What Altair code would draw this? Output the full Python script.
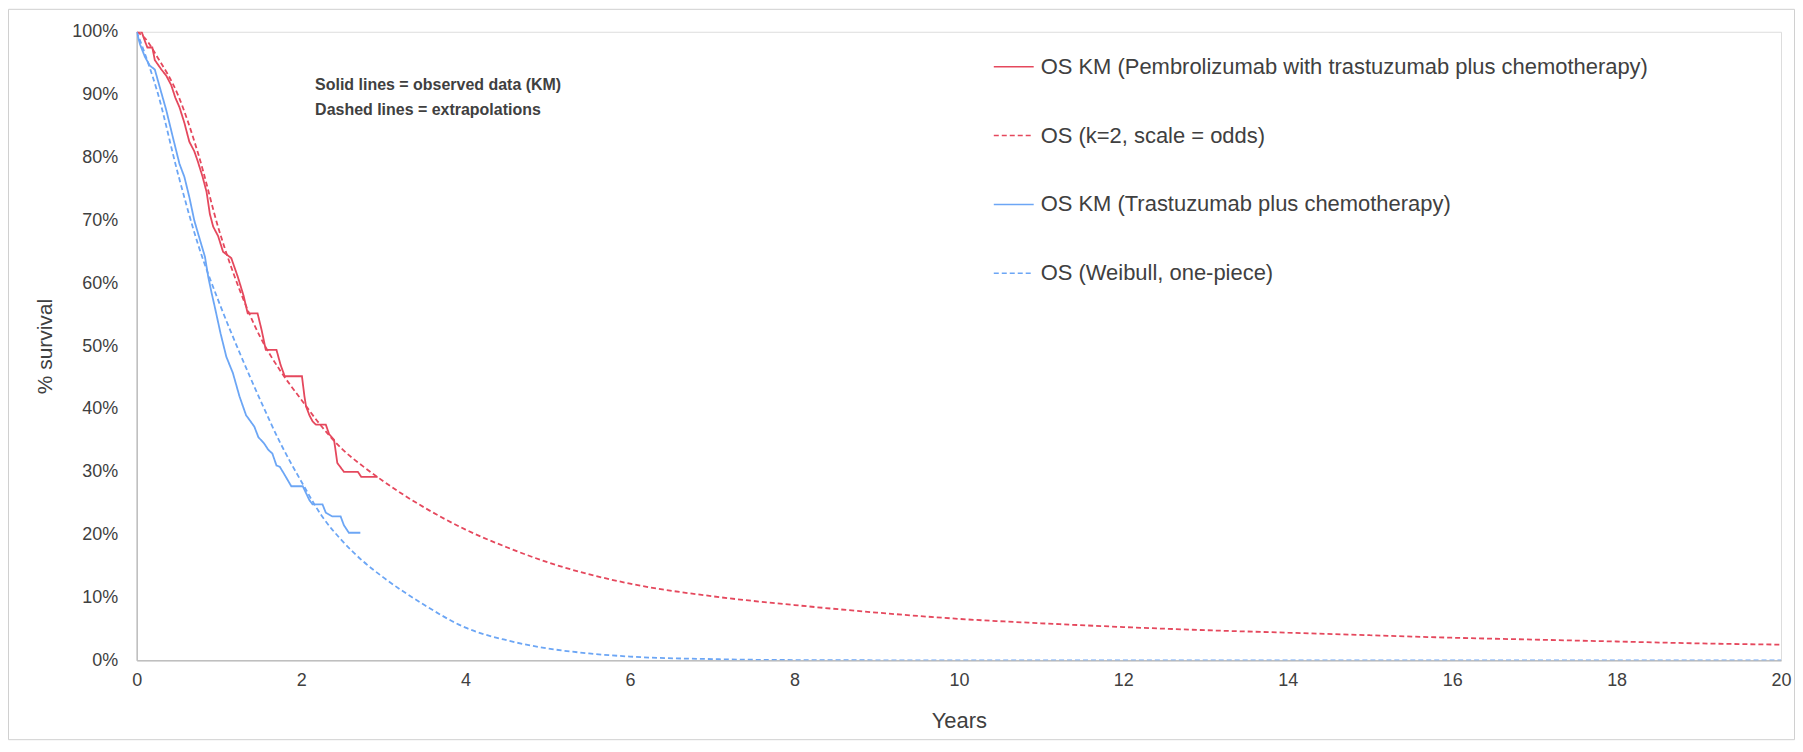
import altair as alt
import pandas as pd

# ---- Data (years, % survival) ----
pem_km_t = [0, 0.06, 0.10, 0.13, 0.19, 0.22, 0.30, 0.36, 0.42, 0.47, 0.52, 0.58, 0.64, 0.70, 0.74,
            0.80, 0.85, 0.89, 0.93, 0.99, 1.05, 1.15, 1.19, 1.23, 1.30, 1.35, 1.47, 1.52, 1.57, 1.70,
            1.75, 1.80, 2.01, 2.04, 2.06, 2.10, 2.14, 2.18, 2.30, 2.34, 2.40, 2.44, 2.52, 2.69, 2.73, 2.93]
pem_km_s = [100, 100, 98.5, 97.5, 97.5, 95.5, 94, 93, 91.5, 89.5, 88, 85.5, 82.5, 81, 79.5,
            77, 74.5, 71, 69, 67.5, 65, 64, 62.5, 61, 58, 55.2, 55.2, 52.5, 49.4, 49.4,
            47, 45.2, 45.2, 42, 40.4, 39, 38, 37.5, 37.5, 36, 35.1, 31.4, 30.0, 30.0, 29.2, 29.2]

tra_km_t = [0, 0.04, 0.07, 0.10, 0.16, 0.22, 0.28, 0.36, 0.44, 0.52, 0.58, 0.64, 0.70, 0.76, 0.83,
            0.87, 0.91, 0.95, 1.02, 1.09, 1.17, 1.25, 1.33, 1.43, 1.48, 1.55, 1.60, 1.65, 1.70, 1.74,
            1.80, 1.88, 2.02, 2.10, 2.14, 2.26, 2.30, 2.38, 2.48, 2.52, 2.58, 2.72]
tra_km_s = [100, 98, 97, 96, 94.6, 94, 91.2, 87.5, 83.2, 79, 76.9, 73.7, 70, 67.3, 64.2,
            61, 58.5, 56.2, 52, 48.3, 45.7, 42, 39, 37.2, 35.5, 34.5, 33.5, 32.9, 31, 30.8,
            29.5, 27.7, 27.7, 25.5, 24.8, 24.8, 23.5, 22.9, 22.9, 21.5, 20.3, 20.3]

pem_fit_t = [0, 0.1, 0.25, 0.5, 0.75, 1.0, 1.25, 1.5, 1.75, 2.0, 2.25, 2.5, 2.75, 3.0, 3.25, 3.5,
             4, 4.5, 5, 6, 7, 8, 9, 10, 11, 12, 13, 14, 15, 16, 17, 18, 19, 20]
pem_fit_s = [100, 99, 96, 90, 80.5, 68.5, 59, 51.5, 46, 41.5, 37.2, 33.6, 30.9, 28.5, 26.3, 24.3,
             20.8, 18, 15.6, 12.2, 10.2, 8.8, 7.6, 6.6, 5.9, 5.3, 4.8, 4.4, 4.0, 3.6, 3.3, 3.0, 2.7, 2.5]

tra_fit_t = [0, 0.1, 0.25, 0.5, 0.75, 1.0, 1.25, 1.5, 1.75, 2.0, 2.25, 2.5, 2.75, 3.0, 3.5, 4.0,
             4.5, 5.0, 5.5, 6.0, 7.0, 8.0, 10, 20]
tra_fit_s = [100, 96.5, 90.5, 77.5, 66, 57, 49, 41.5, 34.5, 28.5, 23, 19, 15.8, 13.2, 8.8, 5.2,
             3.2, 1.9, 1.1, 0.6, 0.2, 0.05, 0, 0]

series_names = ["OS KM (Pembrolizumab with trastuzumab plus chemotherapy)",
                "OS (k=2, scale = odds)",
                "OS KM (Trastuzumab plus chemotherapy)",
                "OS (Weibull, one-piece)"]
series_colors = ["#E5485D", "#E5485D", "#6CA6F5", "#6CA6F5"]
series_dash = [[1, 0], [5, 3], [1, 0], [5, 3]]

note_lines = ["Solid lines = observed data (KM)", "Dashed lines = extrapolations"]
note_t = [2.17, 2.17]
note_s = [91.6, 87.6]

x_ticks = list(range(0, 21, 2))
y_ticks = list(range(0, 101, 10))

FONT = "Liberation Sans"
TXT = "#404040"


def frame(ts, ss, name, kind):
    return pd.DataFrame({"t": ts, "s": ss, "series": name, "kind": kind, "idx": range(len(ts))})


df = pd.concat([
    frame(pem_km_t, pem_km_s, series_names[0], "km"),
    frame(pem_fit_t, pem_fit_s, series_names[1], "fit"),
    frame(tra_km_t, tra_km_s, series_names[2], "km"),
    frame(tra_fit_t, tra_fit_s, series_names[3], "fit"),
], ignore_index=True)

W, H = 1648, 630

legend = alt.Legend(
    title=None, orient="none", legendX=858, legendY=14, symbolType="stroke",
    symbolSize=1600, symbolStrokeWidth=1.5, labelFontSize=22, labelFont=FONT,
    labelColor=TXT, rowPadding=37, labelOffset=6, padding=0, labelLimit=900,
)

x_enc = alt.X("t:Q", scale=alt.Scale(domain=[0, 20], nice=False),
              axis=alt.Axis(values=x_ticks, format="d", title="Years", grid=False, ticks=False, tickSize=0,
                            labelPadding=11, labelFontSize=18, labelFont=FONT, labelColor=TXT,
                            titleFontSize=22, titleFont=FONT, titleColor=TXT, titleFontWeight="normal",
                            titleY=60, titleBaseline="middle",
                            domainColor="#BFBFBF", domainWidth=1.5, labelFlush=False))
y_enc = alt.Y("s:Q", scale=alt.Scale(domain=[0, 100], nice=False),
              axis=alt.Axis(values=y_ticks, title="% survival", grid=False, ticks=False, tickSize=0,
                            labelExpr="datum.value + '%'", labelPadding=19, labelFontSize=18,
                            labelFont=FONT, labelColor=TXT, titleFontSize=21, titleFont=FONT,
                            titleColor=TXT, titleFontWeight="normal", titleX=-91, titleY=315,
                            titleAngle=-90, titleAlign="center", titleBaseline="middle",
                            domainColor="#BFBFBF", domainWidth=1.5, labelFlush=False))
color_enc = alt.Color("series:N", scale=alt.Scale(domain=series_names, range=series_colors), legend=legend)
dash_enc = alt.StrokeDash("series:N", scale=alt.Scale(domain=series_names, range=series_dash), legend=legend)

base = alt.Chart(df)

km = base.transform_filter(alt.datum.kind == "km").mark_line(strokeWidth=1.8, clip=True).encode(
    x=x_enc, y=y_enc, color=color_enc, strokeDash=dash_enc, order="idx:Q", detail="series:N")
fit = base.transform_filter(alt.datum.kind == "fit").mark_line(strokeWidth=1.8, interpolate="monotone", clip=True).encode(
    x=x_enc, y=y_enc, color=color_enc, strokeDash=dash_enc, order="idx:Q", detail="series:N")

notes = alt.Chart(pd.DataFrame({"t": note_t, "s": note_s, "txt": note_lines})).mark_text(
    align="left", baseline="middle", fontSize=16, font=FONT, fontWeight="bold", color=TXT
).encode(x="t:Q", y="s:Q", text="txt:N")

border = alt.Chart(alt.Data(values=[{"a": 1}])).mark_rect(
    fill=None, stroke="#D0D0D0", strokeWidth=1
).encode(x=alt.value(-128.5), x2=alt.value(W + 13.5), y=alt.value(-22.5), y2=alt.value(H + 79.5))

chart = alt.layer(border, km, fit, notes).properties(
    width=W, height=H,
    autosize=alt.AutoSizeParams(type="none"),
    padding={"left": 129, "top": 23, "right": 14, "bottom": 80},
).configure_view(stroke=None).configure(background="white")

chart.save("out.html", embed_options={"renderer": "svg", "actions": False})
